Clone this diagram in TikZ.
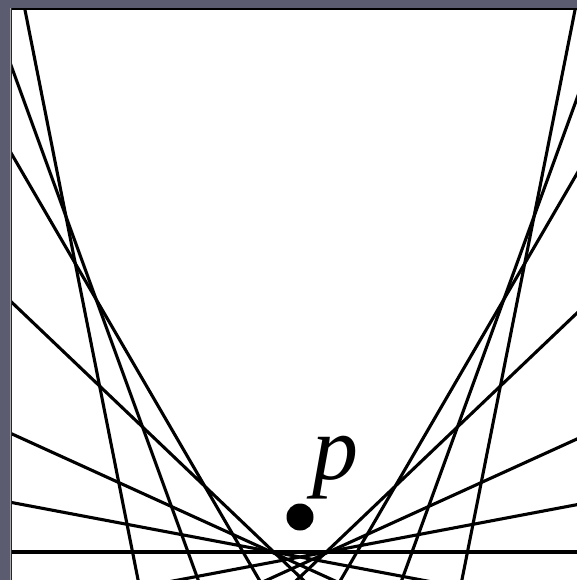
\documentclass[tikz,border=0pt]{standalone}
\usepackage{fontspec}
\setmainfont{Liberation Serif}
\definecolor{slatebg}{RGB}{92,92,112}
\definecolor{edgegray}{RGB}{170,170,175}
\begin{document}
\begin{tikzpicture}[x=1pt,y=-1pt,
  envline/.style={line width=3.1pt,black},
]
\useasboundingbox (0,0) rectangle (577,580);
\fill[slatebg] (0,0) rectangle (577,580);
\fill[white] (11,8) rectangle (577,580);
\begin{scope}
\clip (11.5,9) rectangle (577,580);
\foreach \c/\m in {1396/5.04, 860/2.75, 650/1.72, 577/0.953, 565/0.455, 557/0.189}{
  \pgfmathsetmacro{\ya}{\c-300*\m}
  \pgfmathsetmacro{\yb}{\c+300*\m}
  \coordinate (La) at (0,\ya);
  \coordinate (Lb) at (600,\yb);
  \coordinate (Ra) at (0,\yb);
  \coordinate (Rb) at (600,\ya);
  \draw[envline] (La) -- (Lb);
  \draw[envline] (Ra) -- (Rb);
}
\coordinate (Ha) at (0,552);
\coordinate (Hb) at (600,552);
\draw[envline] (Ha) -- (Hb);
\end{scope}
\draw[line width=2.2pt,black] (11,9.3) -- (577,9.3);
\draw[line width=1pt,edgegray] (10.3,8) -- (10.3,580);
\draw[line width=1.3pt,black!85] (11.8,8) -- (11.8,580);
\node[circle,fill=black,minimum size=27pt,inner sep=0pt] (dot) at (300,517) {};
\node[anchor=base,inner sep=0pt,font=\fontsize{92}{92}\selectfont\itshape] (plabel) at (335,479) {p};
\end{tikzpicture}
\end{document}
